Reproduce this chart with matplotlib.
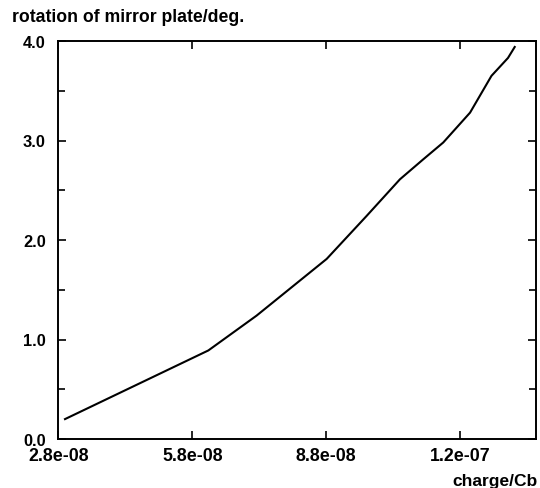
import matplotlib
matplotlib.use("Agg")
import matplotlib.pyplot as plt
from matplotlib.ticker import MultipleLocator, FixedLocator

plt.rcParams['font.family'] = ['Liberation Sans', 'DejaVu Sans']
plt.rcParams['font.weight'] = 'bold'

charge = [2.95e-8, 6.16e-8, 7.24e-8, 8.81e-8, 9.70e-8, 10.45e-8, 10.97e-8,
          11.42e-8, 12.02e-8, 12.50e-8, 12.87e-8, 13.02e-8]
rotation = [0.20, 0.89, 1.24, 1.81, 2.24, 2.61, 2.81,
            2.98, 3.28, 3.65, 3.83, 3.94]

xticks = [2.8e-8, 5.8e-8, 8.8e-8, 1.18e-7]
xticklabels = ['2.8e-08', '5.8e-08', '8.8e-08', '1.2e-07']
yticks = [0.0, 1.0, 2.0, 3.0, 4.0]
yticklabels = ['0.0', '1.0', '2.0', '3.0', '4.0']

fig = plt.figure(figsize=(5.4, 4.89), dpi=100)
ax = fig.add_axes([58.3/540, 1-440/489, (535.7-58.3)/540, (440-42)/489])
ax.plot(charge, rotation, color='black', lw=1.5)
ax.set_xlim(2.8e-8, 1.349e-7)
ax.set_ylim(0, 4.0)
ax.xaxis.set_major_locator(FixedLocator(xticks))
ax.set_xticklabels(xticklabels, fontsize=12.8, fontweight='bold')
ax.yaxis.set_major_locator(FixedLocator(yticks))
ax.set_yticklabels(yticklabels, fontsize=11.8, fontweight='bold')
ax.yaxis.set_minor_locator(MultipleLocator(0.5))
ax.tick_params(which='both', direction='in', top=True, right=True, width=1.2)
ax.tick_params(which='major', length=6)
ax.tick_params(which='minor', length=5)
ax.tick_params(axis='x', pad=6)
ax.tick_params(axis='y', pad=9)
for s in ax.spines.values():
    s.set_linewidth(1.4)

fig.text(12/540, 1-21.5/489, 'rotation of mirror plate/deg.', fontsize=12.7, fontweight='bold',
         ha='left', va='baseline')
fig.text(538/540, 1-486/489, 'charge/Cb', fontsize=12.5, fontweight='bold',
         ha='right', va='baseline')

fig.savefig('out.png', dpi=100)
